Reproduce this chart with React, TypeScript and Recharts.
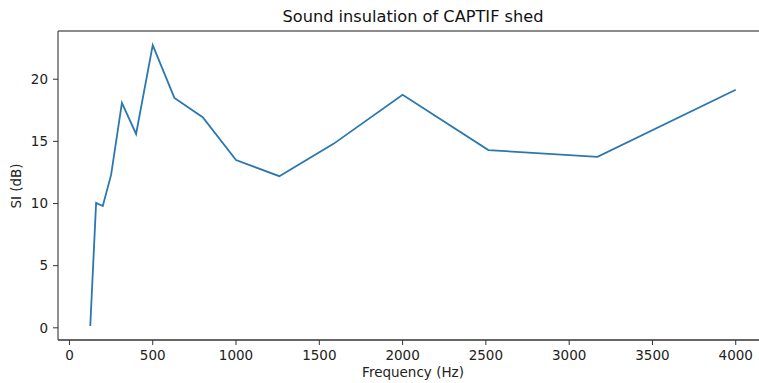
import React from 'react';
import { LineChart, Line, XAxis, YAxis, Label, ReferenceLine } from 'recharts';

// third-octave band centres (Hz)
const frequencies = [125, 160, 200, 250, 315, 400, 500, 630, 800, 1000, 1260, 1585, 2000, 2515, 3170, 4000];
// sound insulation (dB)
const insulation = [0.15, 10.05, 9.8, 12.3, 18.1, 15.6, 22.75, 18.5, 16.95, 13.5, 12.2, 14.8, 18.75, 14.3, 13.75, 19.15];

const xTicks = [0, 500, 1000, 1500, 2000, 2500, 3000, 3500, 4000];
const yTicks = [0, 5, 10, 15, 20];

const data = frequencies.map((f, i) => ({ freq: f, si: insulation[i] }));

const FONT = '"DejaVu Sans", sans-serif';
const AXIS = '#333333';
const FS = 13.5;

// matplotlib style 5% padding on each side
const pad = (lo: number, hi: number): [number, number] => {
  const m = (hi - lo) * 0.05;
  return [lo - m, hi + m];
};
const xDomain = pad(Math.min(...frequencies), Math.max(...frequencies));
const yDomain = pad(Math.min(...insulation), Math.max(...insulation));

const YTitle = () => (
  <text
    x={17}
    y={186}
    transform="rotate(-90 17 186)"
    textAnchor="middle"
    dominantBaseline="middle"
    fontSize={FS}
    fontFamily={FONT}
    fill="#222"
  >
    SI (dB)
  </text>
);

const App: React.FC = () => {
  return (
    <div style={{ position: 'absolute', left: 0, top: 0, width: 759, height: 383, overflow: 'hidden', background: '#fff' }}>
      <div
        style={{
          position: 'absolute',
          left: 163,
          width: 500,
          top: 8,
          textAlign: 'center',
          fontFamily: FONT,
          fontSize: 16.2,
          lineHeight: '18px',
          color: '#111',
          whiteSpace: 'nowrap',
        }}
      >
        Sound insulation of CAPTIF shed
      </div>
      <LineChart width={780} height={383} data={data} margin={{ top: 31, right: 12, left: 0, bottom: 0 }}>
        <XAxis
          dataKey="freq"
          type="number"
          domain={xDomain}
          allowDataOverflow
          ticks={xTicks}
          interval={0}
          height={43}
          tickSize={5}
          tickMargin={5}
          axisLine={{ stroke: AXIS, strokeWidth: 1.3 }}
          tickLine={{ stroke: AXIS }}
          tick={{ fontSize: FS, fontFamily: FONT, fill: '#222' }}
        >
          <Label value="Frequency (Hz)" position="insideBottom" offset={6} fontSize={FS} fontFamily={FONT} fill="#222" />
        </XAxis>
        <YAxis
          type="number"
          domain={yDomain}
          allowDataOverflow
          ticks={yTicks}
          interval={0}
          width={58}
          tickSize={5}
          tickMargin={5}
          axisLine={{ stroke: '#555', strokeWidth: 1.3 }}
          tickLine={{ stroke: AXIS }}
          tick={{ fontSize: FS, fontFamily: FONT, fill: '#222' }}
        >
          <Label content={<YTitle />} />
        </YAxis>
        {/* top spine */}
        <ReferenceLine y={yDomain[1]} stroke="#666" strokeWidth={1.3} ifOverflow="visible" />
        <Line
          type="linear"
          dataKey="si"
          stroke="#2b77b0"
          strokeWidth={1.8}
          dot={false}
          activeDot={false}
          isAnimationActive={false}
        />
      </LineChart>
    </div>
  );
};

export default App;
